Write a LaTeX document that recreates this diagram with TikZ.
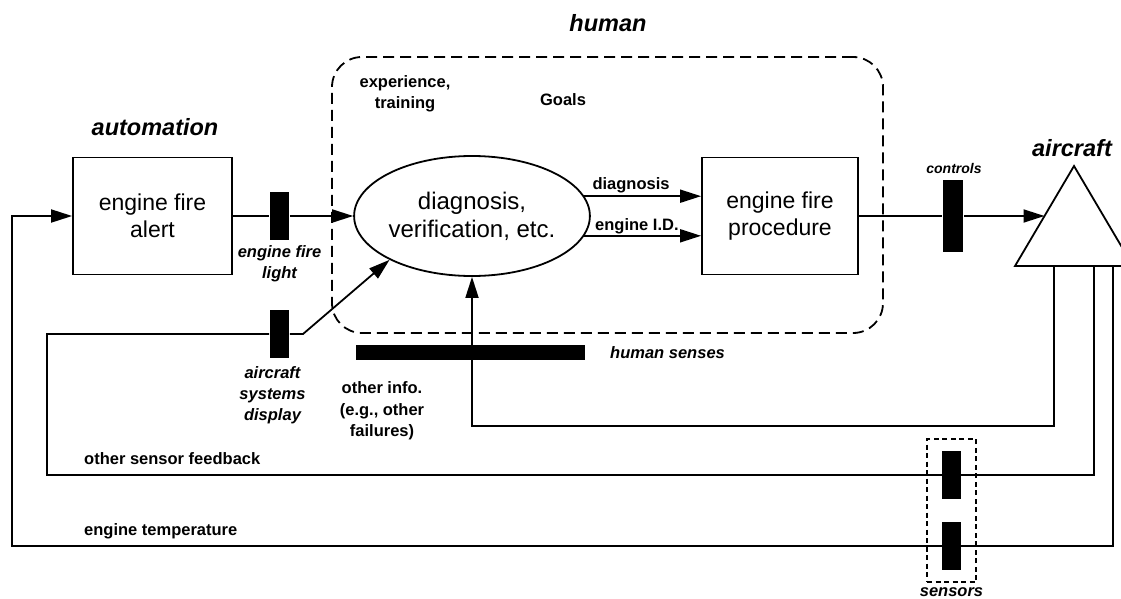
\documentclass[tikz,border=0pt]{standalone}
\usepackage{fontspec}
\setmainfont{Liberation Sans}
\usetikzlibrary{arrows.meta,shapes.geometric,positioning}

\begin{document}
\begin{tikzpicture}[x=1pt,y=-1pt,line width=1.8pt,
  >={Triangle[length=21pt,width=13pt]},
  box/.style={draw,minimum width=156pt,minimum height=117pt,align=center,
    font=\fontsize{23}{27}\selectfont},
  bar/.style={fill=black,inner sep=0pt,minimum width=19pt,minimum height=48pt},
  lbl/.style={align=center,font=\fontsize{16.5}{21.5}\selectfont\bfseries},
  ilbl/.style={align=center,font=\fontsize{16.5}{21}\selectfont\bfseries\itshape},
  title/.style={font=\fontsize{23.5}{28}\selectfont\bfseries\itshape}]
\clip (0,0) rectangle (1121,599);

% automation
\node[title] (autoT) at (155,127) {automation};
\node[box,minimum width=159pt] (alert) at (152.5,216) {engine fire\\alert};
\node[bar] (light) at (279.5,216) {};
\node[ilbl,below=0pt of light] (lightL) {engine fire\\light};
\node[bar] (sysdisp) at (279.5,334) {};
\node[ilbl,below=3pt of sysdisp,xshift=-7pt] (sysdispL) {aircraft\\systems\\display};

% human
\node[draw,dashed,dash pattern=on 11pt off 6pt,rounded corners=30pt,
  minimum width=551pt,minimum height=276pt] (humanR) at (607.5,195) {};
\node[title] (humanT) at (608,23) {human};
\node[lbl] (exper) at (405,94) {experience,\\training};
\node[lbl] (goals) at (563,100) {Goals};
\node[draw,ellipse,minimum width=225pt,minimum height=120pt,inner sep=0pt,
  align=center,font=\fontsize{24}{28}\selectfont] (diag) at (472,216)
  {diagnosis,\\verification, etc.};
\node[box] (proc) at (780,216) {engine fire\\procedure};
\node[fill=black,inner sep=0pt,minimum width=229pt,minimum height=15pt] (senses) at (470.5,352.5) {};
\node[ilbl,anchor=west] (sensesL) at (606,353) {human senses};
\node[lbl] (otherinfo) at (382,411) {other info.\\(e.g., other\\failures)};

% aircraft
\node[title] (acT) at (1072,148) {aircraft};
\coordinate (acTop) at (1074,166);
\coordinate (acL) at (1015,266);
\coordinate (acR) at (1133,266);
\coordinate (acIn) at (1044.5,216);
\draw[line join=miter] (acTop) -- (acR) -- (acL) -- cycle;
\node[fill=black,inner sep=0pt,minimum width=20pt,minimum height=72pt] (ctrl) at (953,216) {};
\node[font=\fontsize{14}{17}\selectfont\bfseries\itshape] (ctrlL) at (954,168) {controls};

% feedback paths
\coordinate (fbA) at (1054,266);
\coordinate (fbAc) at (472,426);
\coordinate (fbB) at (1094,266);
\coordinate (fbBc) at (47,475);
\coordinate (sdIn) at (47,334);
\coordinate (bend) at (303,334);
\coordinate (fbC) at (1113,266);
\coordinate (fbCc) at (12,546);

% connectors
\draw[->] (alert.east) -- (light) -- (diag.west);
\draw[->] (diag.10) -- node[lbl,above,pos=0.4,inner sep=2pt] {diagnosis} (diag.10 -| proc.west);
\draw[->] (diag.-10) -- node[lbl,above,pos=0.45,inner sep=1pt] {engine I.D.} (diag.-10 -| proc.west);
\draw[->] (proc.east) -- (ctrl) -- (acIn);
\draw[->] (fbA) |- (fbAc) -- (diag.south);
\draw[->] (fbB) |- (fbBc) -- (sdIn) -- (sysdisp) -- (bend) -- (diag.208);
\draw[->] (fbC) |- (fbCc) |- (alert.west);
\node[lbl,anchor=west] (osfL) at (80,459) {other sensor feedback};
\node[lbl,anchor=west] (etL) at (80,531) {engine temperature};

% sensors
\node[draw,dashed,dash pattern=on 5pt off 3.5pt,line width=1.5pt,
  minimum width=49pt,minimum height=143pt] (sens) at (951.5,510.5) {};
\node[bar] (sensA) at (951.5,475) {};
\node[bar] (sensB) at (951.5,546) {};
\node[ilbl,below=3pt of sens,inner sep=1pt] (sensL) {sensors};
\end{tikzpicture}
\end{document}
